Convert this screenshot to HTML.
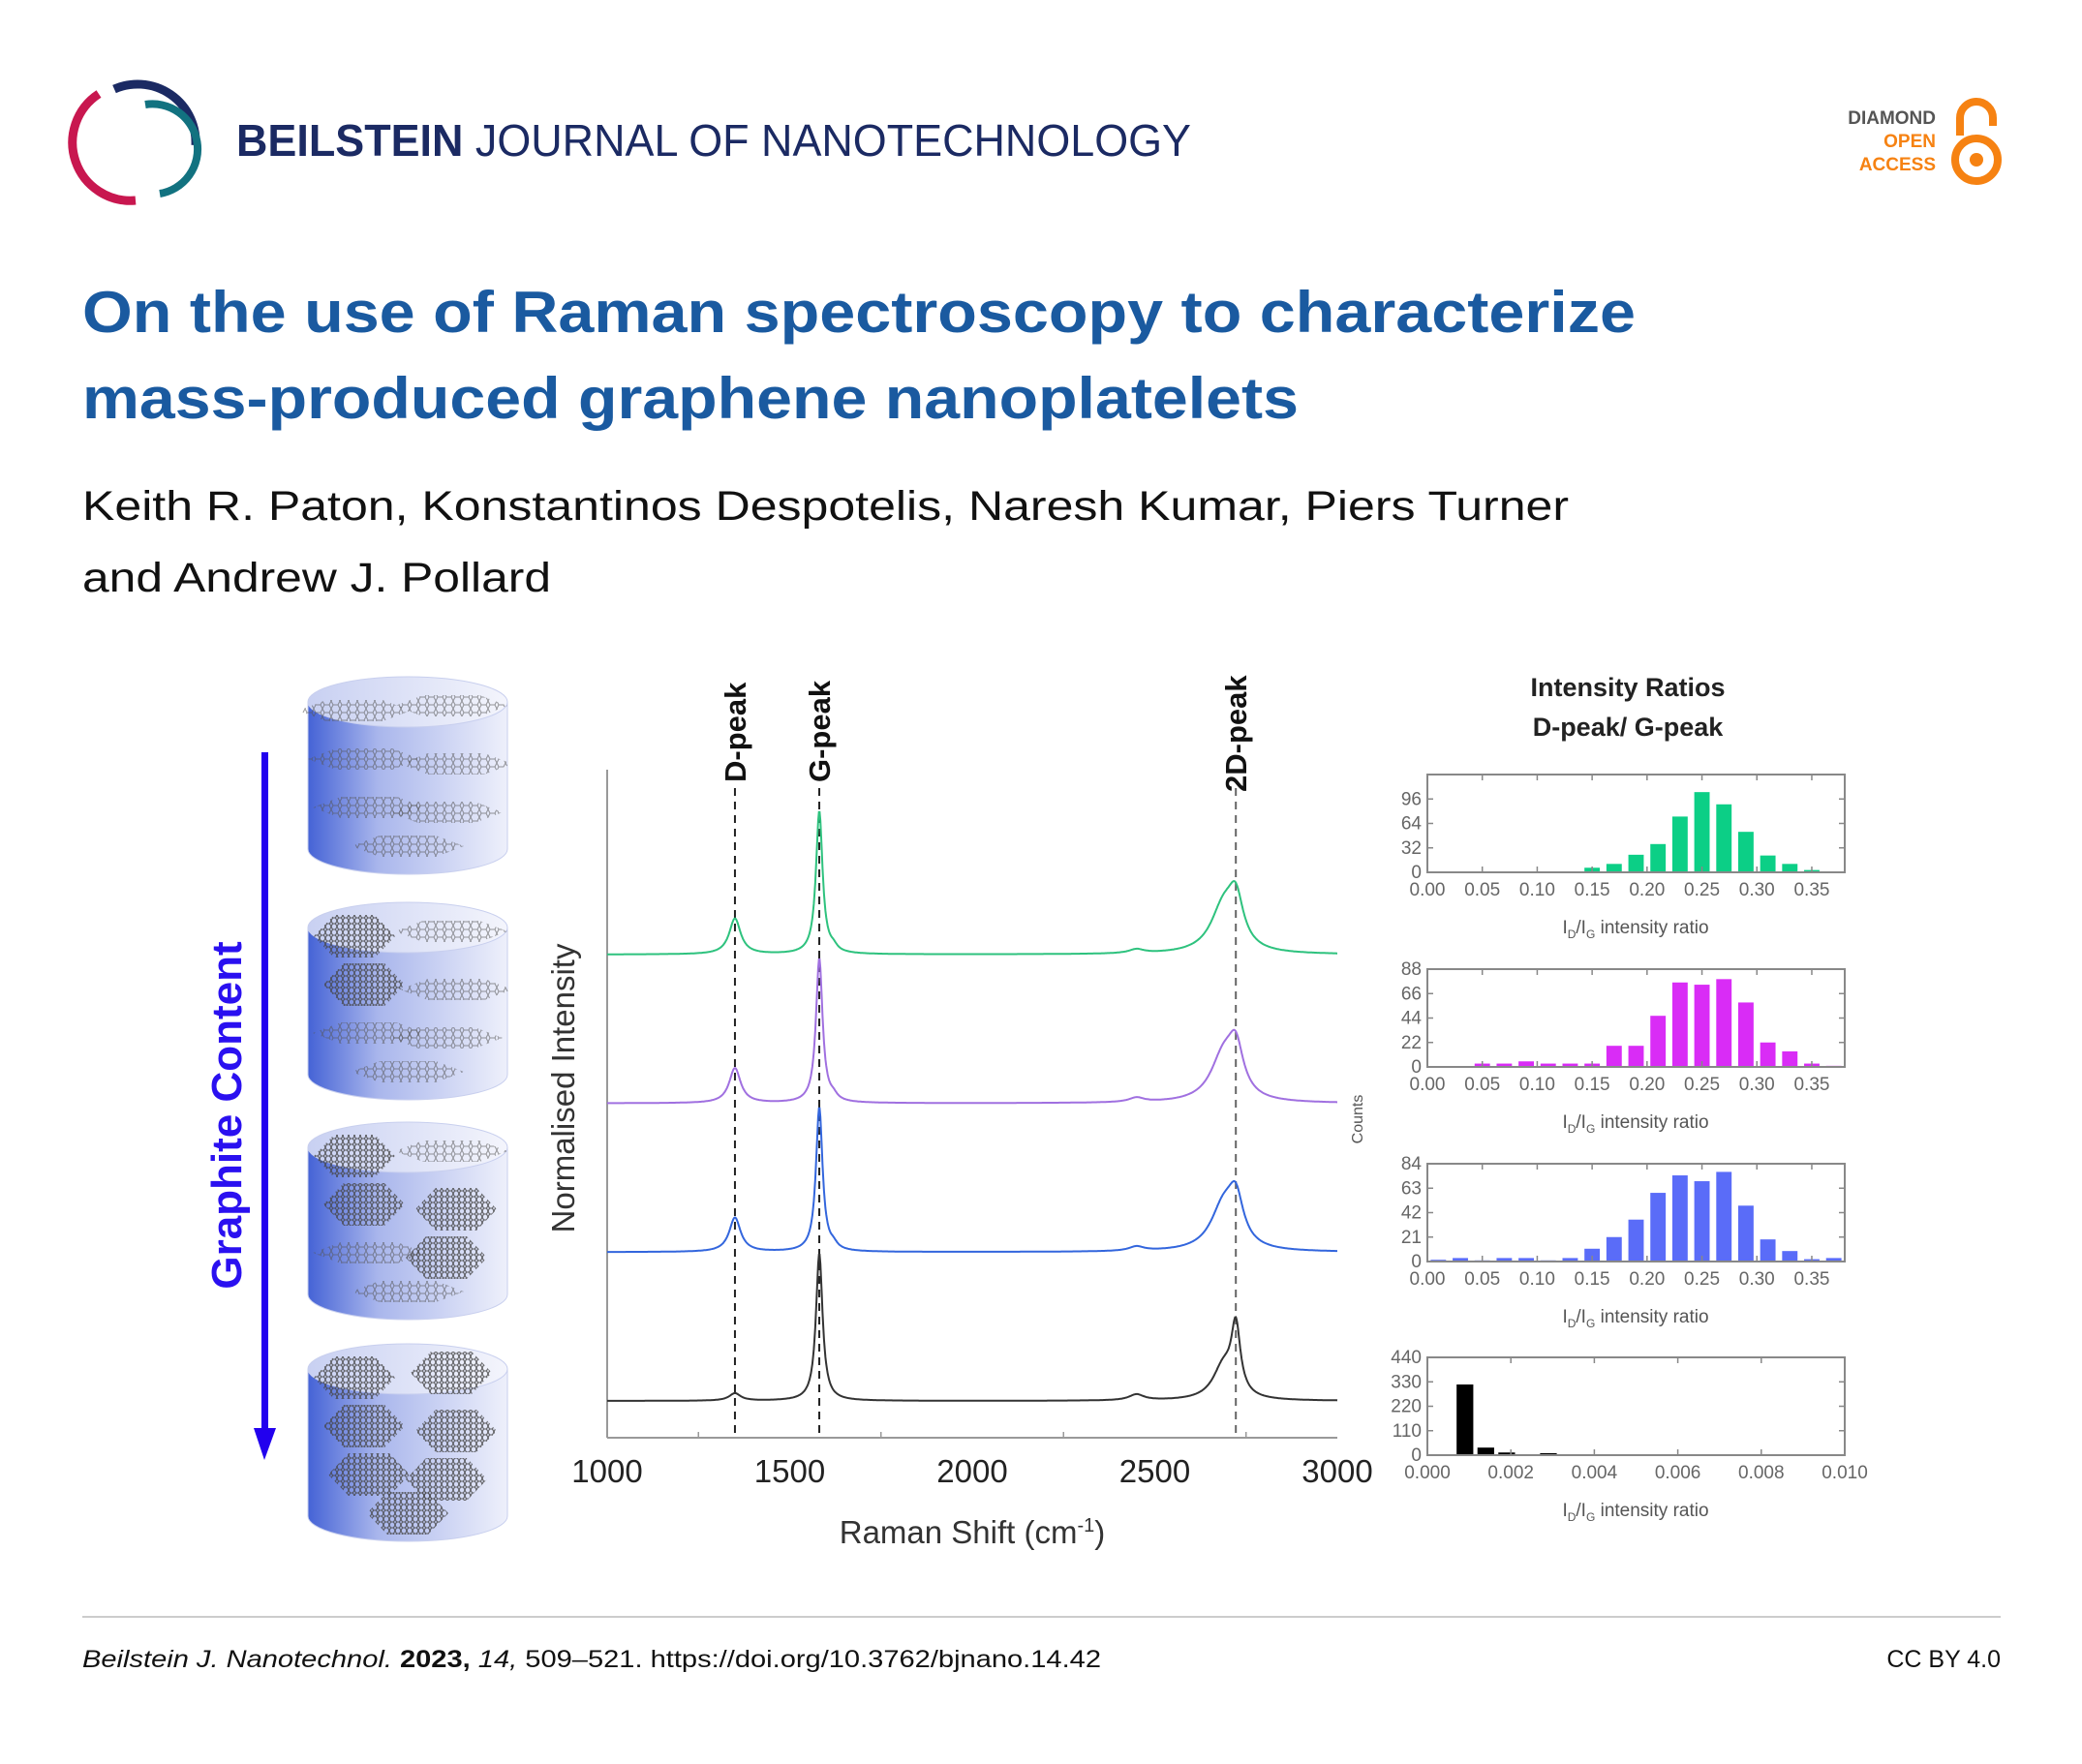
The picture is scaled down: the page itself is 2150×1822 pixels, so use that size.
<!DOCTYPE html>
<html><head><meta charset="utf-8"><style>
html,body{margin:0;padding:0;background:#fff;}
svg{display:block;font-family:"Liberation Sans",Arial,sans-serif;}
</style></head><body>
<svg id="page" width="2150" height="1822" viewBox="0 0 2150 1822" xmlns="http://www.w3.org/2000/svg">
<defs>
  <linearGradient id="cylGrad" x1="0" y1="0" x2="1" y2="0">
    <stop offset="0" stop-color="#4563d6"/><stop offset="0.35" stop-color="#a9b6ec"/><stop offset="1" stop-color="#eef0fb"/>
  </linearGradient>
  <linearGradient id="topGrad" x1="0" y1="0" x2="1" y2="0">
    <stop offset="0" stop-color="#c8d0f2"/><stop offset="1" stop-color="#f4f5fc"/>
  </linearGradient>
  <pattern id="hexPat" width="9" height="8" patternUnits="userSpaceOnUse">
    <path d="M0,4 L2,0 L7,0 L9,4 L7,8 L2,8 Z" fill="none" stroke="#555" stroke-width="1"/>
  </pattern>
  <pattern id="hexPatD" width="6" height="6" patternUnits="userSpaceOnUse">
    <path d="M0,3 L1.5,0 L4.5,0 L6,3 L4.5,6 L1.5,6 Z" fill="none" stroke="#444" stroke-width="1"/>
  </pattern>
</defs>

<g>
  <path d="M 118 92 A 60 60 0 0 1 202 150" fill="none" stroke="#1b2a63" stroke-width="9"/>
  <path d="M 150 108 A 46 46 0 0 1 165 200" fill="none" stroke="#127280" stroke-width="8"/>
  <path d="M 102 97 A 60 60 0 0 0 140 207" fill="none" stroke="#c8174f" stroke-width="9"/>
</g>
<text x="244" y="161" font-size="46" fill="#1b2a63" textLength="986" lengthAdjust="spacingAndGlyphs"><tspan font-weight="bold">BEILSTEIN</tspan> JOURNAL OF NANOTECHNOLOGY</text>
<g font-weight="bold" font-size="19" text-anchor="end">
  <text x="1999" y="128" fill="#555">DIAMOND</text>
  <text x="1999" y="152" fill="#f68212">OPEN</text>
  <text x="1999" y="176" fill="#f68212">ACCESS</text>
  <path d="M 2024 140 L 2024 122 A 17 17 0 0 1 2058 122 L 2058 130" fill="none" stroke="#f68212" stroke-width="8"/>
  <circle cx="2041" cy="165" r="22" fill="none" stroke="#f68212" stroke-width="8"/>
  <circle cx="2041" cy="165" r="7" fill="#f68212"/>
</g>

<text x="85" y="343" font-size="60" font-weight="bold" fill="#1a5aa0" textLength="1604" lengthAdjust="spacingAndGlyphs">On the use of Raman spectroscopy to characterize</text>
<text x="85" y="432" font-size="60" font-weight="bold" fill="#1a5aa0" textLength="1256" lengthAdjust="spacingAndGlyphs">mass-produced graphene nanoplatelets</text>
<text x="85" y="537" font-size="43" fill="#111" textLength="1535" lengthAdjust="spacingAndGlyphs">Keith R. Paton, Konstantinos Despotelis, Naresh Kumar, Piers Turner</text>
<text x="85" y="611" font-size="43" fill="#111" textLength="484" lengthAdjust="spacingAndGlyphs">and Andrew J. Pollard</text>

<g id="cylinders"></g>
<g>
  <rect x="270" y="777" width="7" height="700" fill="#2200ee"/>
  <polygon points="262,1475 285,1475 273,1508" fill="#2200ee"/>
</g>
<text transform="translate(249,1152) rotate(-90)" text-anchor="middle" font-size="44" font-weight="bold" fill="#2a10f0">Graphite Content</text>

<g id="spectra"></g>

<text x="1681" y="719" text-anchor="middle" font-size="27" font-weight="bold" fill="#222">Intensity Ratios</text>
<text x="1681" y="760" text-anchor="middle" font-size="27" font-weight="bold" fill="#222">D-peak/ G-peak</text>
<text transform="translate(1407,1156) rotate(-90)" text-anchor="middle" font-size="16" fill="#555">Counts</text>
<g id="hists"></g>

<line x1="85" y1="1670" x2="2066" y2="1670" stroke="#ccc" stroke-width="2"/>
<text x="85" y="1722" font-size="25" fill="#111" textLength="1052" lengthAdjust="spacingAndGlyphs"><tspan font-style="italic">Beilstein J. Nanotechnol.</tspan> <tspan font-weight="bold">2023,</tspan> <tspan font-style="italic">14,</tspan> 509–521. https://doi.org/10.3762/bjnano.14.42</text>
<text x="2066" y="1722" font-size="25" fill="#111" text-anchor="end">CC BY 4.0</text>
</svg>

<script>
const NS = "http://www.w3.org/2000/svg";
function mk(tag, attrs, parent) {
  const e = document.createElementNS(NS, tag);
  for (const k in attrs) e.setAttribute(k, attrs[k]);
  parent.appendChild(e);
  return e;
}

/* ---------- Raman spectra data ---------- */
const spectraSeries = ["green", "purple", "blue", "black"];
const spectraColors = ["#2ec27e", "#a070e0", "#3366dd", "#333333"];
const spectraOffsets = [3, 2, 1, 0];
const dPeakCenter = [1350, 1350, 1350, 1350];
const dPeakHeights = [0.24, 0.235, 0.23, 0.05];
const gPeakCenter = [1581, 1581, 1581, 1581];
const gPeakHeights = [0.96, 0.97, 0.97, 0.99];
const dPrimeHeights = [0.03, 0.03, 0.03, 0.0];
const twoDLowHeights = [0.30, 0.30, 0.29, 0.22];
const twoDHighHeights = [0.30, 0.30, 0.29, 0.45];
const bump2450Heights = [0.027, 0.03, 0.03, 0.04];
const ramanTicks = [1000, 1500, 2000, 2500, 3000];
const peakLabelNames = ["D-peak", "G-peak", "2D-peak"];
const peakLabelPositions = [1350, 1581, 2722];

const sx = v => 627 + (v - 1000) * (1381 - 627) / 2000;
const sy = v => 1447 - v * 153.7;
function lor(x, c, h, w) { const t = (x - c) / (w / 2); return h / (1 + t * t); }

const sp = document.getElementById("spectra");
let el = mk("line", {x1: 627, y1: 795, x2: 627, y2: 1485, stroke: "#999", "stroke-width": 2}, sp);


el = mk("line", {x1: 627, y1: 1485, x2: 1381, y2: 1485, stroke: "#999", "stroke-width": 2}, sp);


ramanTicks.forEach((t, i) => {
  const tl = mk("text", {x: sx(t), y: 1531, "text-anchor": "middle", "font-size": 33, fill: "#222"}, sp);
  tl.textContent = t;
  
  
  if (i < ramanTicks.length - 1) {
    const mt = mk("line", {x1: sx(t + 250), y1: 1485, x2: sx(t + 250), y2: 1479, stroke: "#999", "stroke-width": 1.5}, sp);
    
    
  }
});
el = mk("text", {x: 1004, y: 1594, "text-anchor": "middle", "font-size": 33, fill: "#333"}, sp);
el.innerHTML = 'Raman Shift (cm<tspan dy="-12" font-size="20">-1</tspan><tspan dy="12">)</tspan>';


el = mk("text", {transform: "translate(593,1124) rotate(-90)", "text-anchor": "middle", "font-size": 33, fill: "#333"}, sp);
el.textContent = "Normalised Intensity";


peakLabelNames.forEach((n, i) => {
  const x = sx(peakLabelPositions[i]);
  const ln = mk("line", {x1: x, y1: 814, x2: x, y2: 1485, stroke: i == 2 ? "#666" : "#222", "stroke-width": 2, "stroke-dasharray": "8,6"}, sp);
  
  
  const tx = mk("text", {transform: `translate(${x + 11},${i == 2 ? 818 : 808}) rotate(-90)`, "font-size": 31, "font-weight": "bold", fill: "#111"}, sp);
  tx.textContent = n;
  
  
});
spectraSeries.forEach((s, i) => {
  let d = "";
  for (let x = 1000; x <= 3000; x += 2) {
    let v = spectraOffsets[i]
      + lor(x, dPeakCenter[i], dPeakHeights[i], 38)
      + lor(x, gPeakCenter[i], gPeakHeights[i], 22)
      + lor(x, 1620, dPrimeHeights[i], 25)
      + lor(x, 2450, bump2450Heights[i], 50)
      + lor(x, 2688, twoDLowHeights[i], i == 3 ? 70 : 85)
      + lor(x, 2722, twoDHighHeights[i], i == 3 ? 30 : 50);
    d += (x == 1000 ? "M" : "L") + sx(x).toFixed(1) + "," + sy(v).toFixed(1);
  }
  const p = mk("path", {d: d, fill: "none", stroke: spectraColors[i], "stroke-width": 2}, sp);
  
  
});

/* ---------- Histogram data ---------- */
const ratioBinCenters = [0.01,0.03,0.05,0.07,0.09,0.11,0.13,0.15,0.17,0.19,0.21,0.23,0.25,0.27,0.29,0.31,0.33,0.35,0.37];
const greenCounts  = [0,0,0,0,0,0.5,0,6,11,23,37,73,105,89,53,22,11,3,1];
const purpleCounts = [0,0,3,3,5,3,3,3,19,19,46,76,74,79,58,22,14,3,1];
const blueCounts   = [1.5,3,1,3,3,1,3,11,21,36,59,74,69,77,48,19,9,2,3];
const blackBinCenters = [0.0009,0.0014,0.0019,0.0024,0.0029,0.0034,0.0039,0.0044,0.0049];
const blackCounts  = [318,34,12,3,9,2,2,1,1];
const ratioTicks = [0,0.05,0.1,0.15,0.2,0.25,0.3,0.35];
const ratioTickLabels = ["0.00","0.05","0.10","0.15","0.20","0.25","0.30","0.35"];
const blackTicks = [0,0.002,0.004,0.006,0.008,0.01];
const blackTickLabels = ["0.000","0.002","0.004","0.006","0.008","0.010"];
const greenYTicks = [0,32,64,96];
const purpleYTicks = [0,22,44,66,88];
const blueYTicks = [0,21,42,63,84];
const blackYTicks = [0,110,220,330,440];

const hists = [
  {name: "green", top: 800, color: "#0ccf86", centers: ratioBinCenters, counts: greenCounts, xmax: 0.38, ymax: 128, yt: greenYTicks, xt: ratioTicks, xl: ratioTickLabels, bw: 0.014},
  {name: "purple", top: 1001, color: "#d92cf6", centers: ratioBinCenters, counts: purpleCounts, xmax: 0.38, ymax: 88, yt: purpleYTicks, xt: ratioTicks, xl: ratioTickLabels, bw: 0.014},
  {name: "blue", top: 1202, color: "#5a6cf8", centers: ratioBinCenters, counts: blueCounts, xmax: 0.38, ymax: 84, yt: blueYTicks, xt: ratioTicks, xl: ratioTickLabels, bw: 0.014},
  {name: "black", top: 1402, color: "#000", centers: blackBinCenters, counts: blackCounts, xmax: 0.01, ymax: 440, yt: blackYTicks, xt: blackTicks, xl: blackTickLabels, bw: 0.0004}
];
const hg = document.getElementById("hists");
hists.forEach(h => {
  const L = 1474, R = 1905, T = h.top, B = h.top + 101;
  const xs = v => L + v / h.xmax * (R - L);
  const ys = v => B - v / h.ymax * (B - T);
  const g = mk("g", {}, hg);
  
  
  h.centers.forEach((c, i) => {
    const b = mk("rect", {x: xs(c - h.bw / 2), y: ys(h.counts[i]), width: xs(h.bw) - L, height: B - ys(h.counts[i]), fill: h.color}, g);
    
    
  });
  const fr = mk("rect", {x: L, y: T, width: R - L, height: B - T, fill: "none", stroke: "#888", "stroke-width": 2}, g);
  
  
  h.yt.forEach(t => {
    const tk = mk("path", {d: `M${L},${ys(t)}h6M${R},${ys(t)}h-6`, stroke: "#888", "stroke-width": 1.5}, g);
    
    
    const tl = mk("text", {x: L - 6, y: ys(t) + 6, "text-anchor": "end", "font-size": 19, fill: "#666"}, g);
    tl.textContent = t;
    
    
  });
  h.xt.forEach((t, i) => {
    const tk = mk("path", {d: `M${xs(t)},${B}v-6M${xs(t)},${T}v6`, stroke: "#888", "stroke-width": 1.5}, g);
    
    
    const tl = mk("text", {x: xs(t), y: B + 24, "text-anchor": "middle", "font-size": 19, fill: "#666"}, g);
    tl.textContent = h.xl[i];
    
    
  });
  const xl = mk("text", {x: 1689, y: B + 63, "text-anchor": "middle", "font-size": 19, fill: "#555"}, g);
  xl.innerHTML = 'I<tspan dy="5" font-size="12">D</tspan><tspan dy="-5">/I</tspan><tspan dy="5" font-size="12">G</tspan><tspan dy="-5"> intensity ratio</tspan>';
  
  
});

/* ---------- Cylinders illustration ---------- */
const cylTops = [699, 932, 1159, 1388];
const cg = document.getElementById("cylinders");
const flakePos = [[-55, 25], [45, 20], [-45, 75], [50, 80], [-40, 125], [40, 130], [0, 165]];
cylTops.forEach((top, i) => {
  const g = mk("g", {}, cg);
  
  
  const cx = 421, rx = 103, ry = 26, h = 152;
  mk("path", {d: `M${cx - rx},${top + ry} L${cx - rx},${top + ry + h} A${rx},${ry} 0 0 0 ${cx + rx},${top + ry + h} L${cx + rx},${top + ry} Z`, fill: "url(#cylGrad)", stroke: "#c8cfee", "stroke-width": 1}, g);
  mk("ellipse", {cx: cx, cy: top + ry, rx: rx, ry: ry, fill: "url(#topGrad)", stroke: "#c8cfee", "stroke-width": 1}, g);
  flakePos.forEach((f, k) => {
    const big = (k * 3 + 1) % 7 < i * 2 + (i == 3 ? 2 : 0);
    const w = big ? 42 : 58, hh = big ? 22 : 11;
    const fx = cx + f[0], fy = top + 10 + f[1];
    mk("polygon", {points: `${fx - w},${fy} ${fx - w / 2},${fy - hh} ${fx + w / 2},${fy - hh} ${fx + w},${fy} ${fx + w / 2},${fy + hh} ${fx - w / 2},${fy + hh}`, fill: big ? "url(#hexPatD)" : "url(#hexPat)", opacity: big ? 0.9 : 0.6}, g);
  });
});
</script>
</body></html>
